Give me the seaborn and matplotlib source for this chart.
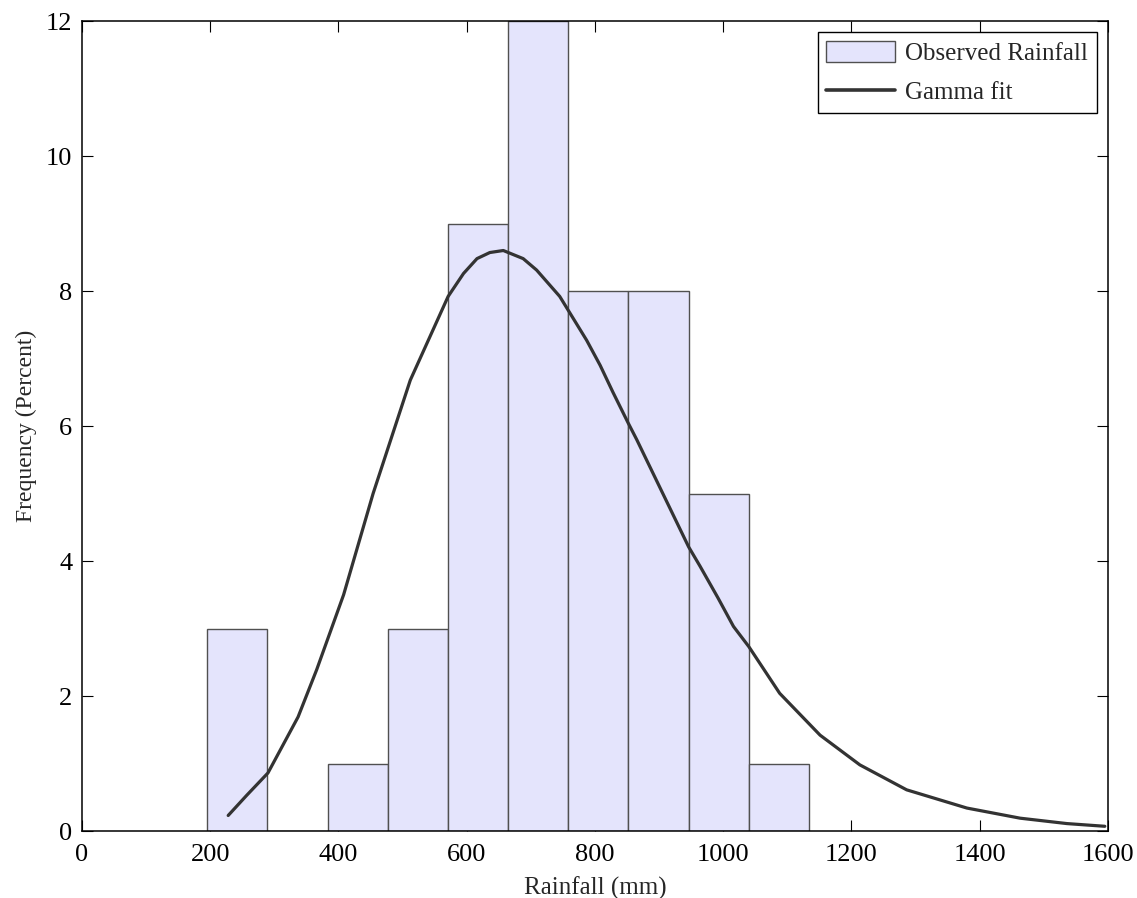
import matplotlib
matplotlib.use("Agg")
import matplotlib.pyplot as plt
import seaborn as sns
import pandas as pd
from matplotlib.patches import Patch
from matplotlib.lines import Line2D

# ---- data ----
bin_edges = [195, 289, 383, 477, 571, 665, 758, 852, 946, 1040, 1134]
counts = [3, 0, 1, 3, 9, 12, 8, 8, 5, 1]

gamma_x = [228, 257, 290, 337, 366, 408, 454, 512, 571, 595, 616, 636, 657,
           688, 709, 745, 787, 808, 828, 852, 865, 946, 964, 992, 1016, 1040,
           1088, 1151, 1213, 1286, 1380, 1463, 1536, 1595]
gamma_y = [0.23, 0.53, 0.86, 1.69, 2.39, 3.50, 5.00, 6.68, 7.92, 8.26, 8.48,
           8.57, 8.60, 8.48, 8.31, 7.92, 7.27, 6.90, 6.50, 6.04, 5.80, 4.21,
           3.92, 3.45, 3.03, 2.73, 2.04, 1.42, 0.98, 0.61, 0.34, 0.19, 0.11,
           0.07]

x_ticks = [0, 200, 400, 600, 800, 1000, 1200, 1400, 1600]
y_ticks = [0, 2, 4, 6, 8, 10, 12]

bar_color = "#E4E4FC"
bar_edge = "#505050"
line_color = "#333333"

sns.set_style("ticks")
plt.rcParams["font.family"] = ["Liberation Serif", "DejaVu Serif"]

fig = plt.figure(figsize=(11.37, 8.98), dpi=100)
ax = fig.add_axes([0.0721, 0.0746, 0.9024, 0.902])

centers = [(bin_edges[i] + bin_edges[i + 1]) / 2 for i in range(len(counts))]
df_hist = pd.DataFrame({"rain": centers, "freq": counts})
sns.histplot(data=df_hist, x="rain", weights="freq", bins=bin_edges, ax=ax,
             color=bar_color, edgecolor=bar_edge, linewidth=1.0, alpha=1.0,
             stat="count")

df_fit = pd.DataFrame({"x": gamma_x, "y": gamma_y})
sns.lineplot(data=df_fit, x="x", y="y", ax=ax, color=line_color,
             linewidth=2.3, sort=False)

ax.set_xlim(0, 1600)
ax.set_ylim(0, 12)
ax.set_xticks(x_ticks)
ax.set_yticks(y_ticks)
ax.set_xlabel("Rainfall (mm)", fontsize=18, labelpad=8)
ax.set_ylabel("Frequency (Percent)", fontsize=17, labelpad=6)
ax.tick_params(axis="both", direction="in", length=8, width=0.8,
               labelsize=19, top=True, right=True, colors="black")
ax.tick_params(axis="x", pad=9)
ax.tick_params(axis="y", pad=7)
for sp in ax.spines.values():
    sp.set_visible(True)
    sp.set_color("black")
    sp.set_linewidth(1.1)

handles = [Patch(facecolor=bar_color, edgecolor=bar_edge, linewidth=1.0),
           Line2D([0], [0], color=line_color, linewidth=2.6)]
leg = ax.legend(handles, ["Observed Rainfall", "Gamma fit"], loc="upper right",
                fontsize=18, frameon=True, fancybox=False, framealpha=1,
                edgecolor="black", borderaxespad=0.45, handlelength=2.75,
                handleheight=0.92, handletextpad=0.4, borderpad=0.35,
                labelspacing=0.6)
leg.get_frame().set_linewidth(1.0)

fig.savefig("out.png", dpi=100)
